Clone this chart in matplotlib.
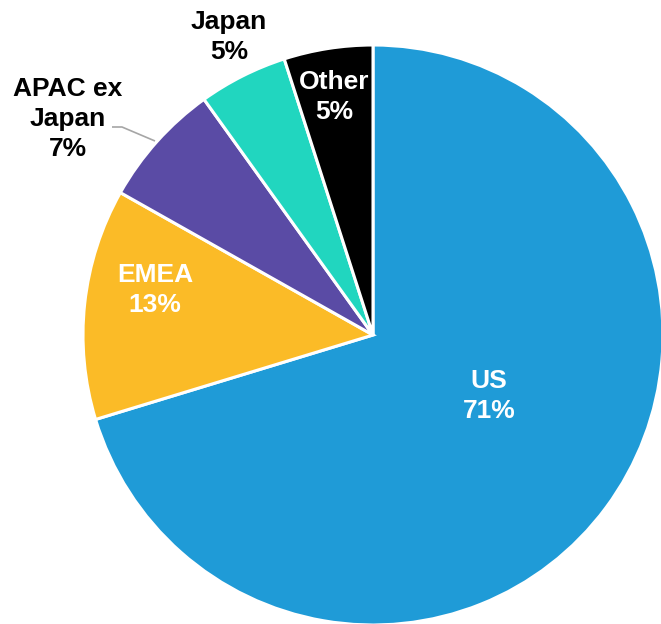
import matplotlib
matplotlib.use("Agg")
import matplotlib.pyplot as plt

regions = ["US", "EMEA", "APAC ex\nJapan", "Japan", "Other"]
shares = [71, 13, 7, 5, 5]
colors = ["#1F9BD7", "#FBBB27", "#5A4BA5", "#21D6BF", "#000000"]

plt.rcParams["font.family"] = ["Liberation Sans", "DejaVu Sans"]

W, H = 661, 624
fig = plt.figure(figsize=(W / 100, H / 100), dpi=100)
ax = fig.add_axes([0, 0, 1, 1])

cx, cy, R = 373, 335, 290  # pie centre and radius in pixels


def px(x, y):
    """Convert pixel position (from top-left) to data coordinates."""
    return x - cx, cy - y


wedges, _ = ax.pie(
    shares,
    colors=colors,
    startangle=90,
    counterclock=False,
    radius=R,
    center=(0, 0),
    wedgeprops=dict(edgecolor="white", linewidth=2.2),
)
ax.set_xlim(-cx, W - cx)
ax.set_ylim(cy - H, cy)
ax.set_aspect("equal")
ax.set_axis_off()

fs = 19
label_pos = {
    "US": ((489, 396), "white"),
    "EMEA": ((155, 290), "white"),
    "APAC ex\nJapan": ((68, 119), "black"),
    "Japan": ((229, 37), "black"),
    "Other": ((334, 97), "white"),
}
for name, val in zip(regions, shares):
    (x, y), col = label_pos[name]
    ax.text(*px(x, y), f"{name}\n{val}%", ha="center", va="center",
            color=col, fontsize=fs, fontweight="bold", linespacing=1.3)

# leader line for the APAC label
lx, ly = zip(px(112, 127), px(122, 127), px(155, 141))
ax.plot(lx, ly, color="#A6A6A6", lw=1.2, solid_capstyle="butt")

fig.savefig("out.png", dpi=100)
